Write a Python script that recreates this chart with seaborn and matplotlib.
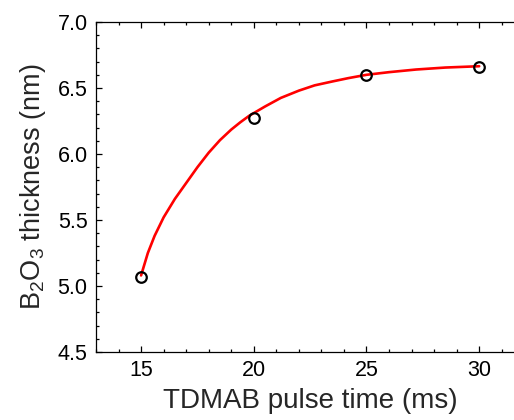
import matplotlib
matplotlib.use("Agg")
import matplotlib.pyplot as plt
import seaborn as sns
import pandas as pd
from matplotlib.ticker import MultipleLocator

# measured data
pulse_time = [15, 20, 25, 30]
thickness = [5.07, 6.27, 6.60, 6.66]

# fitted curve
fit_x = [15.0, 15.3, 15.6, 16.0, 16.5, 17.0, 17.5, 18.0, 18.5, 19.0, 19.4, 19.8,
         20.5, 21.2, 22.0, 22.7, 23.5, 24.2, 25.0, 26.0, 27.2, 28.5, 30.0]
fit_y = [5.08, 5.25, 5.38, 5.52, 5.66, 5.78, 5.90, 6.01, 6.105, 6.185, 6.24, 6.29,
         6.36, 6.425, 6.48, 6.52, 6.55, 6.575, 6.60, 6.62, 6.64, 6.655, 6.665]

sns.set_theme(style="ticks")
plt.rcParams["font.family"] = ["Liberation Sans", "DejaVu Sans"]
plt.rcParams["mathtext.fontset"] = "custom"
plt.rcParams["mathtext.rm"] = "Liberation Sans"
plt.rcParams["mathtext.it"] = "Liberation Sans"
plt.rcParams["mathtext.default"] = "regular"

fig = plt.figure(figsize=(5.14, 4.20), dpi=100)
ax = fig.add_axes([96 / 514, 1 - 352 / 420, 1 - 96 / 514 + 0.02, (352 - 22) / 420])

df_pts = pd.DataFrame({"x": pulse_time, "y": thickness})
df_fit = pd.DataFrame({"x": fit_x, "y": fit_y})

sns.lineplot(data=df_fit, x="x", y="y", ax=ax, color="#ff0000", lw=1.9, sort=False, zorder=2)
ax.plot(df_pts["x"], df_pts["y"], ls="none", marker="o", ms=7.6, mfc="none",
        mec="black", mew=1.6, zorder=3)

ax.set_xlim(13, 32.0)
ax.set_ylim(4.5, 7.0)
ax.xaxis.set_major_locator(MultipleLocator(5))
ax.xaxis.set_minor_locator(MultipleLocator(1))
ax.yaxis.set_major_locator(MultipleLocator(0.5))
ax.yaxis.set_minor_locator(MultipleLocator(0.1))
ax.yaxis.set_major_formatter(matplotlib.ticker.FormatStrFormatter("%.1f"))

ax.tick_params(which="both", direction="in", top=True, right=False, colors="black",
               width=0.9, labelsize=15.5, pad=6)
ax.tick_params(which="major", length=4.5)
ax.tick_params(which="minor", length=2.5)
for s in ["left", "bottom", "top"]:
    ax.spines[s].set_linewidth(0.9)
    ax.spines[s].set_color("black")
ax.spines["right"].set_visible(False)

ax.set_xlabel("TDMAB pulse time (ms)", fontsize=20, labelpad=5)
ax.set_ylabel("B$_2$O$_3$ thickness (nm)", fontsize=19.5, labelpad=7)

fig.savefig("out.png", dpi=100)
